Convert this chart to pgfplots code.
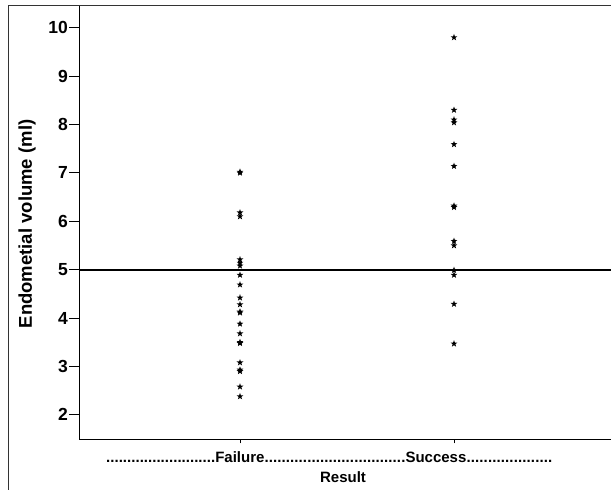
\documentclass[border=0pt]{standalone}
\usepackage{pgfplots}
\pgfplotsset{compat=1.18}
\usepackage{fontspec}
\setmainfont{Liberation Sans}
\pgfdeclareplotmark{fstar}{%
\pgfpathmoveto{\pgfpointpolar{90}{\pgfplotmarksize}}%
\pgfpathlineto{\pgfpointpolar{126}{0.42*\pgfplotmarksize}}%
\pgfpathlineto{\pgfpointpolar{162}{\pgfplotmarksize}}%
\pgfpathlineto{\pgfpointpolar{198}{0.42*\pgfplotmarksize}}%
\pgfpathlineto{\pgfpointpolar{234}{\pgfplotmarksize}}%
\pgfpathlineto{\pgfpointpolar{270}{0.42*\pgfplotmarksize}}%
\pgfpathlineto{\pgfpointpolar{306}{\pgfplotmarksize}}%
\pgfpathlineto{\pgfpointpolar{342}{0.42*\pgfplotmarksize}}%
\pgfpathlineto{\pgfpointpolar{18}{\pgfplotmarksize}}%
\pgfpathlineto{\pgfpointpolar{54}{0.42*\pgfplotmarksize}}%
\pgfpathclose\pgfusepathqfill}
\newcommand\dotrun[1]{\hbox to #1{\xleaders\hbox{.}\hfill}}
\begin{document}
\begin{tikzpicture}[x=1pt,y=1pt]
\path[use as bounding box] (0,0) rectangle (611,490);
\draw[line width=1pt, black!80] (8,0) -- (8,484) -- (611,484);
\begin{axis}[
  at={(79pt,50pt)}, anchor=south west,
  scale only axis, width=532pt, height=434pt,
  xmin=-0.7523, xmax=1.7336, ymin=1.48, ymax=10.45,
  axis lines=left, axis line style={-, line width=1pt},
  xtick=\empty,
  extra x ticks={0,1}, extra x tick labels={,},
  extra x tick style={major tick length=3.5pt},
  ytick={2,3,4,5,6,7,8,9,10},
  tick align=outside, major tick length=10pt,
  tick style={black, line width=0.9pt},
  /pgf/number format/assume math mode=true,
  ticklabel style={font=\fontsize{17.5}{20}\selectfont\bfseries},
  yticklabel style={inner sep=1pt},
  clip=false,
]
\addplot[black, line width=2pt] coordinates {(-0.7523,5) (1.7336,5)};
\addplot[only marks, mark=fstar, mark size=3.5pt, black] coordinates {
(0,7.0) (0,7.02) (0,6.18) (0,6.1) (0,5.21) (0,5.14) (0,5.08) (0,4.89) (0,4.69)
(0,4.42) (0,4.28) (0,4.13) (0,4.11) (0,3.88) (0,3.68) (0,3.5) (0,3.48)
(0,3.08) (0,2.93) (0,2.9) (0,2.58) (0,2.38)};
\addplot[only marks, mark=fstar, mark size=3.5pt, black] coordinates {
(1,9.8) (1,8.3) (1,8.1) (1,8.04) (1,7.59) (1,7.14) (1,6.32) (1,6.29)
(1,5.59) (1,5.5) (1,4.99) (1,4.89) (1,4.29) (1,3.47)};
\end{axis}
\node[anchor=west, inner sep=0pt, font=\fontsize{15}{18}\selectfont\bfseries] at (106,33)
  {\dotrun{109pt}Failure\dotrun{141pt}Success\dotrun{86pt}};
\node[font=\fontsize{15}{18}\selectfont\bfseries] at (343,13) {Result};
\node[rotate=90, anchor=base, inner sep=0pt, font=\fontsize{18.5}{22}\selectfont\bfseries] at (32,266) {Endometial volume (ml)};
\end{tikzpicture}
\end{document}
